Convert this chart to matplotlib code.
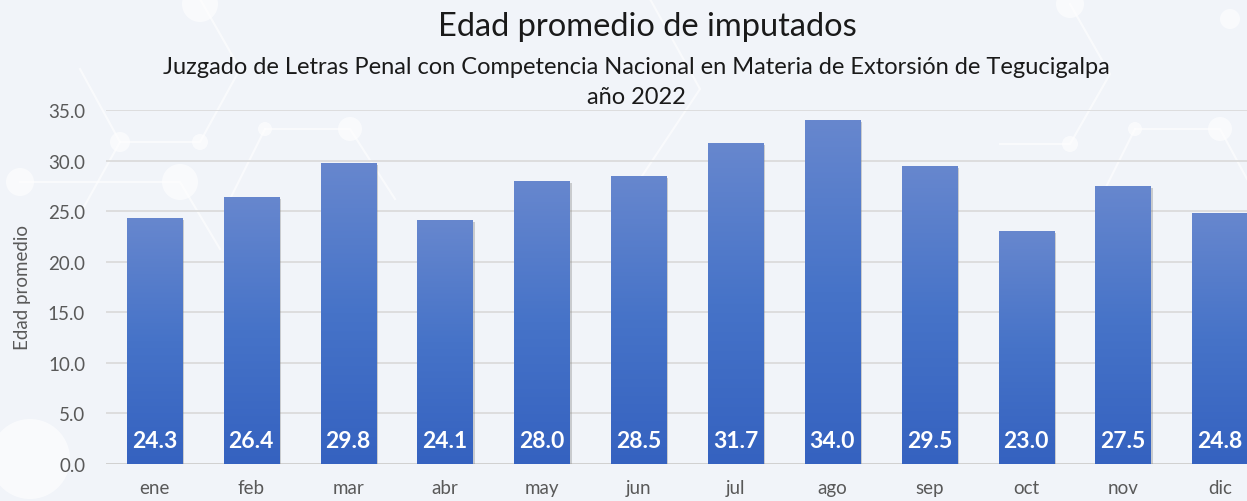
import matplotlib
matplotlib.use("Agg")
import matplotlib.pyplot as plt
import matplotlib.patheffects as pe
from matplotlib.colors import LinearSegmentedColormap
import numpy as np

# datos
meses = ["ene", "feb", "mar", "abr", "may", "jun", "jul", "ago", "sep", "oct", "nov", "dic"]
edad_promedio = [24.3, 26.4, 29.8, 24.1, 28.0, 28.5, 31.7, 34.0, 29.5, 23.0, 27.5, 24.8]
y_ticks = [0, 5, 10, 15, 20, 25, 30, 35]

plt.rcParams['font.family'] = ['Lato', 'DejaVu Sans']

fig = plt.figure(figsize=(12.47, 5.02), dpi=100)
fig.patch.set_facecolor('#f1f4f9')

# decoración de fondo (red hexagonal tenue)
deco = fig.add_axes([0, 0, 1, 1], zorder=0)
deco.set_xlim(0, 1247)
deco.set_ylim(502, 0)
deco.axis('off')
lineas = [
    [(80, 70), (120, 143), (200, 143), (240, 70), (200, 0)],
    [(120, 143), (80, 215)],
    [(265, 130), (350, 130), (395, 200)],
    [(265, 130), (230, 200)],
    [(1070, 5), (1110, 75), (1070, 145), (1000, 145)],
    [(1135, 130), (1220, 130), (1247, 180)],
    [(1135, 130), (1100, 200)],
    [(20, 183), (180, 183), (220, 250)],
    [(650, 0), (700, 90), (640, 180)],
]
for pts in lineas:
    xs, ys = zip(*pts)
    deco.plot(xs, ys, color='white', lw=1.5, alpha=0.6)
circulos = [(200, 5, 18), (120, 143, 10), (200, 143, 8), (265, 130, 7), (350, 130, 12),
            (20, 183, 14), (180, 183, 18), (1070, 5, 14), (1070, 145, 8), (1135, 130, 7),
            (1220, 130, 12), (30, 460, 40), (1230, 20, 10)]
for cx, cy, r in circulos:
    deco.add_patch(plt.Circle((cx, cy), r, color='white', alpha=0.6, lw=0))

ax = fig.add_axes([0.085, 0.0737, 0.915, 0.7052], zorder=1)
ax.patch.set_alpha(0)

x = np.arange(len(meses))
bars = ax.bar(x, edad_promedio, width=0.57, color='#4472c4', zorder=2,
              path_effects=[pe.SimplePatchShadow(offset=(1.5, -1.5), shadow_rgbFace='#7f7f7f', alpha=0.35), pe.Normal()])

# degradado vertical dentro de cada barra
cmap = LinearSegmentedColormap.from_list('grad', ['#3562c0', '#4673c8', '#6787ce'])
grad = np.linspace(0, 1, 256).reshape(-1, 1)
for b in bars:
    im = ax.imshow(grad, extent=[b.get_x(), b.get_x() + b.get_width(), 0, b.get_height()],
                   origin='lower', cmap=cmap, aspect='auto', zorder=3)
    im.set_clip_path(b)

for xi, v in zip(x, edad_promedio):
    ax.text(xi, 2.3, f'{v:.1f}', ha='center', va='center', color='white',
            fontsize=16.5, fontweight='bold', zorder=4)

ax.set_xlim(-0.5, 11.28)
ax.set_ylim(0, 35)
ax.set_yticks(y_ticks)
ax.set_yticklabels([f'{t:.1f}' for t in y_ticks])
ax.set_xticks(x)
ax.set_xticklabels(meses)
ax.tick_params(axis='both', length=0, labelsize=13.5, colors='#595959')
ax.tick_params(axis='x', pad=11)
ax.tick_params(axis='y', pad=15)
ax.grid(axis='y', color='#d9d9d9', lw=1.2, zorder=1)
ax.set_axisbelow(True)
for s in ax.spines.values():
    s.set_visible(False)
ax.axhline(0, color='#d0d0d0', lw=2, zorder=1)
ax.set_ylabel('Edad promedio', fontsize=13.5, color='#595959')
ax.yaxis.set_label_coords(-0.066, 0.5)

fig.text(0.519, 0.946, 'Edad promedio de imputados', ha='center', va='center', fontsize=23.5, color='#1a1a1a')
fig.text(0.510, 0.865, 'Juzgado de Letras Penal con Competencia Nacional en Materia de Extorsión de Tegucigalpa',
         ha='center', va='center', fontsize=17, color='#1a1a1a')
fig.text(0.510, 0.805, 'año 2022', ha='center', va='center', fontsize=17, color='#1a1a1a')

fig.savefig('out.png', dpi=100, facecolor=fig.get_facecolor())
